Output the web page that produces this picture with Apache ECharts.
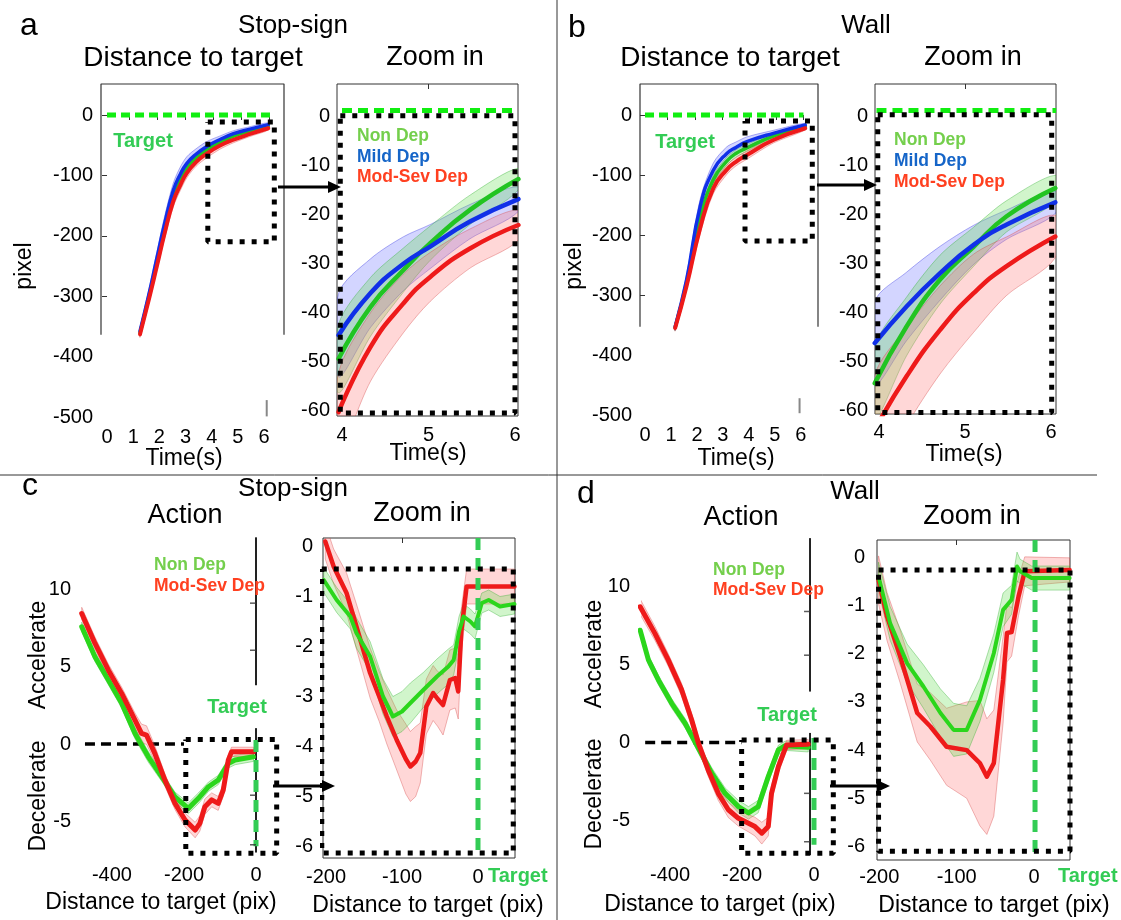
<!DOCTYPE html>
<html>
<head>
<meta charset="utf-8">
<title>Distance to target / Action</title>
<script src="https://cdn.jsdelivr.net/npm/echarts@6/dist/echarts.min.js"></script>
<style>
  html, body { margin: 0; padding: 0; background: #fff; }
  #chart { width: 1121px; height: 920px; }
</style>
</head>
<body>
<div id="chart"></div>
<script>
// ---------- values ----------
// a: Stop-sign, distance to target (pixel) vs time (s)
const aMainTime = [1.26, 1.6, 1.9, 2.2, 2.53, 2.8, 3.05, 3.4, 3.81, 4.3, 4.83, 5.5, 6.16]
const aMainNon = [-361, -301, -245, -188, -133, -106, -87, -71, -57, -46, -35, -26, -18]
const aMainMild = [-358, -297, -238, -180, -125, -98, -80, -65, -52, -41, -31, -23, -16]
const aMainMod = [-363, -305, -251, -196, -143, -116, -96, -78, -64, -51, -41, -31, -22]
const aMainNonErr = [5, 6, 7, 8, 8, 8, 7, 6, 6, 5, 4, 3, 3]
const aMainMildErr = [6, 8, 10, 12, 12, 12, 11, 9, 8, 6, 5, 4, 3]
const aMainModErr = [5, 6, 7, 8, 9, 9, 8, 7, 7, 6, 5, 4, 3]

const aZoomTime = [3.96, 4.33, 4.71, 5.02, 5.48, 6.04]
const aZoomNon = [-49.4, -38.8, -31.3, -25.8, -19, -12.7]
const aZoomMild = [-44.6, -36, -30, -26.5, -21.4, -16.8]
const aZoomMod = [-60.3, -47, -38.1, -32.7, -26.9, -22.1]
const aZoomNonErr = [7, 6, 4.5, 3.5, 3, 2.2]
const aZoomMildErr = [8.5, 7, 5.5, 4.5, 3.5, 2.5]
const aZoomModErr = [8, 7, 6, 5, 4, 3]

// b: Wall, distance to target
const bMainTime = [1.16, 1.6, 2.12, 2.63, 3.15, 3.5, 3.92, 4.94, 6.17]
const bMainNon = [-354, -280, -172, -108, -77, -64, -55, -35, -19]
const bMainMild = [-353, -275, -153, -92, -64, -54, -44.5, -30.5, -16.7]
const bMainMod = [-355, -285, -189, -122, -91, -78, -66.7, -41.7, -22]
const bMainNonErr = [5, 6, 8, 8, 7, 6, 6, 4, 3]
const bMainMildErr = [6, 9, 12, 12, 11, 9, 8, 5, 3]
const bMainModErr = [5, 7, 9, 9, 8, 7, 7, 5, 3]

const bZoomTime = [3.95, 4.32, 4.71, 5.1, 5.48, 6.05]
const bZoomNon = [-54.5, -42.9, -33.3, -26.6, -20.4, -14.6]
const bZoomMild = [-46.3, -38.8, -32, -26.2, -22.1, -17.5]
const bZoomMod = [-64, -53.1, -43.6, -36.1, -30.6, -24.5]
const bZoomNonErr = [7.5, 6, 5, 4, 3.2, 2.6]
const bZoomMildErr = [8.5, 7, 5.5, 4, 3, 2.3]
const bZoomModErr = [11, 10, 9, 8, 6, 4.3]

// c: Stop-sign, action vs distance to target (pix)
const cMainModX = [-484, -447, -410, -373, -336, -318, -304, -281, -253, -225, -197, -169, -156, -142, -123, -105, -91, -77, -68, -7]
const cMainMod = [8.43, 6.5, 4.77, 3.27, 1.55, 0.69, 0.58, -0.6, -2.32, -3.83, -4.9, -5.55, -5.12, -4.04, -3.6, -3.83, -2.97, -1.03, -0.5, -0.5]
const cMainModErr = [0.4, 0.4, 0.4, 0.4, 0.45, 0.6, 0.6, 0.5, 0.4, 0.4, 0.45, 0.5, 0.5, 0.5, 0.45, 0.45, 0.4, 0.3, 0.3, 0.3]
const cMainNonX = [-484, -447, -410, -373, -336, -299, -262, -225, -188, -160, -132, -105, -77, -58, -7]
const cMainNon = [7.57, 5.63, 4.13, 2.63, 0.69, -0.82, -2.1, -3.4, -4.15, -3.5, -2.75, -2.32, -1.25, -1.03, -0.82]
const cMainNonErr = [0.3, 0.3, 0.3, 0.3, 0.35, 0.35, 0.3, 0.3, 0.35, 0.35, 0.3, 0.3, 0.3, 0.3, 0.3]

const cZoomModX = [-201, -190, -173, -160, -142, -130, -120, -107, -95, -89, -82, -76, -68, -59, -53, -46, -37, -30, -26, -22, -15, 48]
const cZoomMod = [0.1, -0.4, -0.93, -1.6, -2.53, -3.0, -3.4, -3.87, -4.25, -4.4, -4.3, -4.13, -3.2, -2.93, -3.05, -3.17, -2.67, -2.63, -2.9, -1.7, -0.8, -0.8]
const cZoomModErr = [0.35, 0.35, 0.4, 0.45, 0.5, 0.5, 0.55, 0.6, 0.7, 0.7, 0.7, 0.6, 0.55, 0.55, 0.55, 0.6, 0.6, 0.6, 0.55, 0.45, 0.35, 0.35]
const cZoomNonX = [-203, -186, -168, -160, -142, -125, -112, -100, -89, -72, -54, -39, -32, -25, -19, -10, -4, 5, 14, 21, 29, 48]
const cZoomNon = [-0.67, -1.07, -1.4, -1.73, -2.2, -3.0, -3.4, -3.3, -3.13, -2.87, -2.6, -2.4, -2.27, -1.7, -1.4, -1.5, -1.6, -1.13, -1.07, -1.13, -1.2, -1.15]
const cZoomNonErr = [0.25, 0.25, 0.25, 0.3, 0.3, 0.35, 0.4, 0.4, 0.4, 0.35, 0.35, 0.35, 0.3, 0.3, 0.25, 0.25, 0.25, 0.2, 0.2, 0.2, 0.2, 0.2]

// d: Wall, action vs distance to target
const dMainModX = [-483, -442, -405, -368, -340, -321, -294, -266, -238, -210, -182, -164, -145, -127, -118, -99, -76, -16]
const dMainMod = [8.7, 7.0, 5.3, 3.4, 1.46, -0.04, -1.75, -3.25, -4.3, -4.85, -5.17, -5.38, -5.8, -5.38, -3.25, -1.54, -0.15, -0.1]
const dMainModErr = [0.5, 0.45, 0.4, 0.4, 0.4, 0.4, 0.4, 0.45, 0.5, 0.5, 0.55, 0.6, 0.7, 0.6, 0.5, 0.4, 0.3, 0.3]
const dMainNonX = [-483, -460, -432, -395, -358, -331, -284, -247, -210, -182, -155, -127, -99, -80, -16]
const dMainNon = [7.2, 5.3, 4.0, 2.5, 1.24, 0.06, -1.96, -3.25, -4.1, -4.5, -4.1, -2.18, -0.47, -0.2, -0.3]
const dMainNonErr = [0.3, 0.3, 0.3, 0.3, 0.3, 0.3, 0.35, 0.35, 0.4, 0.4, 0.4, 0.35, 0.3, 0.3, 0.3]

const dZoomModX = [-201, -190, -173, -151, -134, -113, -87, -70, -61, -52, -40, -35, -29, -20, -12, 46]
const dZoomMod = [-0.47, -1.23, -2.06, -3.23, -3.51, -3.93, -4.0, -4.27, -4.55, -4.27, -2.54, -1.57, -1.55, -0.81, -0.29, -0.26]
const dZoomModErr = [0.5, 0.5, 0.55, 0.6, 0.7, 0.8, 1.0, 1.3, 1.2, 1.1, 0.9, 0.6, 0.5, 0.4, 0.3, 0.25]
const dZoomNonX = [-201, -186, -164, -143, -121, -104, -87, -70, -52, -40, -29, -22, -18, -3, 46]
const dZoomNon = [-0.4, -1.37, -2.2, -2.68, -3.23, -3.58, -3.58, -2.96, -1.99, -1.09, -0.88, -0.19, -0.29, -0.43, -0.43]
const dZoomNonErr = [0.3, 0.35, 0.4, 0.45, 0.5, 0.55, 0.5, 0.45, 0.4, 0.35, 0.3, 0.3, 0.25, 0.25, 0.25]

// tick labels
const timeLabels = [0, 1, 2, 3, 4, 5, 6]
const pixelLabels = [0, -100, -200, -300, -400, -500]
const zoomTimeLabels = [4, 5, 6]
const zoomPixelLabels = [0, -10, -20, -30, -40, -50, -60]
const distLabels = [-400, -200, 0]
const actionLabels = [10, 5, 0, -5]
const zoomDistLabels = [-200, -100, 0]
const zoomActionLabels = [0, -1, -2, -3, -4, -5, -6]

// ---------- styling ----------
const FONT = '"Liberation Sans", Arial, Helvetica, sans-serif'
const GREEN = '#22c422'
const GREEN_CD = '#2bd61c'
const BLUE = '#1030e8'
const RED = '#ee1a1a'
const BAND_GREEN = ['rgba(90,220,70,0.28)', 'rgba(40,170,40,0.45)']
const BAND_BLUE = ['rgba(70,80,255,0.24)', 'rgba(40,40,220,0.45)']
const BAND_RED = ['rgba(255,110,110,0.28)', 'rgba(210,60,60,0.45)']
const TARGET_GREEN = '#33cc55'

const grid = []
const xAxis = []
const yAxis = []
const series = []
const graphic = []

const labelStyle = { color: '#000', fontSize: 20, fontFamily: FONT }

function addPanel(p) {
  const gi = grid.length
  grid.push({
    left: p.box[0], top: p.box[1], width: p.box[2], height: p.box[3],
    show: !!p.border, borderColor: '#333', borderWidth: 1, backgroundColor: 'transparent'
  })
  const xi = xAxis.length
  xAxis.push({
    gridIndex: gi, type: 'value', position: 'bottom', min: p.xRange[0], max: p.xRange[1],
    axisLine: { show: false }, axisTick: { show: false }, splitLine: { show: false },
    axisLabel: { ...labelStyle, customValues: p.xLabels, margin: p.xMargin }
  })
  if (p.topTicks) {
    xAxis.push({
      gridIndex: gi, type: 'value', position: 'top', min: p.xRange[0], max: p.xRange[1],
      axisLine: { show: false }, splitLine: { show: false }, axisLabel: { show: false },
      axisTick: { show: true, inside: true, length: 5, customValues: p.topTicks, lineStyle: { color: '#333' } }
    })
  }
  const yi = yAxis.length
  yAxis.push({
    gridIndex: gi, type: 'value', position: 'left', min: p.yRange[0], max: p.yRange[1],
    axisLine: { show: false }, axisTick: { show: false }, splitLine: { show: false },
    axisLabel: { ...labelStyle, customValues: p.yLabels, margin: p.yMargin }
  })
  if (p.rightTicks) {
    yAxis.push({
      gridIndex: gi, type: 'value', position: 'right', min: p.yRange[0], max: p.yRange[1],
      axisLine: { show: false }, splitLine: { show: false }, axisLabel: { show: false },
      axisTick: { show: true, inside: true, length: 5, customValues: p.rightTicks, lineStyle: { color: '#333' } }
    })
  }
  return { xAxisIndex: xi, yAxisIndex: yi }
}

function addLine(ax, xs, ys, color, width, smooth) {
  series.push({
    type: 'line', ...ax, data: xs.map((x, i) => [x, ys[i]]),
    symbol: 'none', smooth: smooth, silent: true, clip: true, z: 3,
    lineStyle: { color, width, join: 'round', cap: 'round' }
  })
}

function addBand(ax, xs, ys, err, colors, smooth) {
  series.push({
    type: 'custom', ...ax, clip: true, silent: true, z: 2,
    data: [[xs[0], ys[0]]],
    renderItem: (params, api) => {
      const upper = xs.map((x, i) => api.coord([x, ys[i] + err[i]]))
      const lower = xs.map((x, i) => api.coord([x, ys[i] - err[i]])).reverse()
      return {
        type: 'polygon',
        shape: { points: upper.concat(lower), smooth: smooth || 0 },
        style: { fill: colors[0], stroke: colors[1], lineWidth: 0.8 }
      }
    }
  })
}

function addPath(ax, pts, lineStyle, z) {
  series.push({
    type: 'line', ...ax, data: pts, symbol: 'none', silent: true, clip: false,
    z: z || 4, lineStyle
  })
}

function addDottedBox(ax, x0, x1, y0, y1) {
  addPath(ax, [[x0, y0], [x1, y0], [x1, y1], [x0, y1], [x0, y0]],
    { color: '#000', width: 5, type: [5, 7], cap: 'butt' }, 5)
}

function addTicksOnLine(ax, pts) {
  series.push({
    type: 'scatter', ...ax, data: pts, symbol: 'rect', symbolSize: [6, 1.5],
    symbolOffset: [-3, 0], itemStyle: { color: '#333' }, silent: true, z: 4
  })
}

function text(x, y, str, opt = {}) {
  const font = (opt.bold ? 'bold ' : '') + (opt.size || 20) + 'px ' + FONT
  graphic.push({
    type: 'text', x, y, rotation: opt.rotation || 0, z: 10, silent: true,
    style: {
      text: str, fill: opt.color || '#000', font,
      textAlign: opt.align || 'center', textVerticalAlign: 'middle'
    }
  })
}

function arrow(x1, x2, y) {
  graphic.push({ type: 'line', shape: { x1, y1: y, x2: x2 - 10, y2: y }, style: { stroke: '#000', lineWidth: 3 }, z: 10 })
  graphic.push({ type: 'polygon', shape: { points: [[x2 - 13, y - 6], [x2, y], [x2 - 13, y + 6]] }, style: { fill: '#000' }, z: 10 })
}

// ---------- a ----------
const aMain = addPanel({
  box: [101, 84, 183, 333], xRange: [-0.23, 6.76], yRange: [-500, 51.3],
  xLabels: timeLabels, yLabels: pixelLabels, xMargin: 10, yMargin: 8,
  topTicks: [0.84, 1.91, 2.98, 4.05, 5.12, 6.19], rightTicks: [0, -100, -200, -300]
})
addPath(aMain, [[-0.23, -364], [-0.23, 51.3], [6.76, 51.3], [6.76, -364]], { color: '#333', width: 1.2 }, 1)
addPath(aMain, [[6.1, -472], [6.1, -499]], { color: '#888', width: 2 }, 1)
addBand(aMain, aMainTime, aMainMild, aMainMildErr, BAND_BLUE, 0.3)
addBand(aMain, aMainTime, aMainNon, aMainNonErr, BAND_GREEN, 0.3)
addBand(aMain, aMainTime, aMainMod, aMainModErr, BAND_RED, 0.3)
addLine(aMain, aMainTime, aMainNon, GREEN, 3.5, true)
addLine(aMain, aMainTime, aMainMild, BLUE, 3.5, true)
addLine(aMain, aMainTime, aMainMod, RED, 4, true)
addPath(aMain, [[0, 0], [6.23, 0]], { color: '#11ee11', width: 5, type: [9, 5], cap: 'butt' })
addDottedBox(aMain, 3.85, 6.39, -11.6, -210)

const aZoom = addPanel({
  box: [337, 84, 181, 332], xRange: [3.942, 6.035], yRange: [-61.1, 6.7], border: true,
  xLabels: zoomTimeLabels, yLabels: zoomPixelLabels, xMargin: 9, yMargin: 7, topTicks: [5]
})
addBand(aZoom, aZoomTime, aZoomMild, aZoomMildErr, BAND_BLUE, 0.3)
addBand(aZoom, aZoomTime, aZoomNon, aZoomNonErr, BAND_GREEN, 0.3)
addBand(aZoom, aZoomTime, aZoomMod, aZoomModErr, BAND_RED, 0.3)
addLine(aZoom, aZoomTime, aZoomNon, GREEN, 4.5, true)
addLine(aZoom, aZoomTime, aZoomMild, BLUE, 4.5, true)
addLine(aZoom, aZoomTime, aZoomMod, RED, 4.5, true)
addPath(aZoom, [[4.0, 1.3], [6.03, 1.3]], { color: '#11ee11', width: 5, type: [10, 6], cap: 'butt' })
addDottedBox(aZoom, 3.98, 6.0, 0.2, -60.5)

// ---------- b ----------
const bMain = addPanel({
  box: [640, 84, 178, 331], xRange: [-0.193, 6.66], yRange: [-500, 51.7],
  xLabels: timeLabels, yLabels: pixelLabels, xMargin: 10, yMargin: 8,
  topTicks: [0.86, 1.93, 2.98, 4.02, 5.07, 6.1], rightTicks: [0, -100, -200, -300]
})
addPath(bMain, [[-0.193, -353], [-0.193, 51.7], [6.66, 51.7], [6.66, -353]], { color: '#333', width: 1.2 }, 1)
addPath(bMain, [[5.95, -472], [5.95, -497]], { color: '#888', width: 2 }, 1)
addBand(bMain, bMainTime, bMainMild, bMainMildErr, BAND_BLUE, 0.3)
addBand(bMain, bMainTime, bMainNon, bMainNonErr, BAND_GREEN, 0.3)
addBand(bMain, bMainTime, bMainMod, bMainModErr, BAND_RED, 0.3)
addLine(bMain, bMainTime, bMainNon, GREEN, 3.5, true)
addLine(bMain, bMainTime, bMainMild, BLUE, 3.5, true)
addLine(bMain, bMainTime, bMainMod, RED, 4, true)
addPath(bMain, [[0, 0], [6.1, 0]], { color: '#11ee11', width: 5, type: [9, 5], cap: 'butt' })
addDottedBox(bMain, 3.85, 6.44, -10, -210)

const bZoom = addPanel({
  box: [875, 84, 181, 330], xRange: [3.953, 6.058], yRange: [-60.8, 6.7], border: true,
  xLabels: zoomTimeLabels, yLabels: zoomPixelLabels, xMargin: 8, yMargin: 7, topTicks: [5]
})
addBand(bZoom, bZoomTime, bZoomMild, bZoomMildErr, BAND_BLUE, 0.3)
addBand(bZoom, bZoomTime, bZoomNon, bZoomNonErr, BAND_GREEN, 0.3)
addBand(bZoom, bZoomTime, bZoomMod, bZoomModErr, BAND_RED, 0.3)
addLine(bZoom, bZoomTime, bZoomNon, GREEN, 4.5, true)
addLine(bZoom, bZoomTime, bZoomMild, BLUE, 4.5, true)
addLine(bZoom, bZoomTime, bZoomMod, RED, 4.5, true)
addPath(bZoom, [[3.97, 1.3], [6.06, 1.3]], { color: '#11ee11', width: 5, type: [10, 6], cap: 'butt' })
addDottedBox(bZoom, 3.985, 6.008, 0.4, -60.5)

// ---------- c ----------
const cMain = addPanel({
  box: [81, 535, 196, 320], xRange: [-486, 58.3], yRange: [-7.16, 13.5],
  xLabels: distLabels, yLabels: actionLabels, xMargin: 10, yMargin: 10
})
addPath(cMain, [[0, 13.35], [0, 3.8]], { color: '#222', width: 2 }, 1)
addPath(cMain, [[0, 1.03], [0, -7.0]], { color: '#222', width: 2 }, 1)
addTicksOnLine(cMain, [[0, 9.1], [0, 6.06], [0, -3.3], [0, -6.5]])
addPath(cMain, [[-475, 0], [-200, 0]], { color: '#000', width: 3.5, type: [10, 6], cap: 'butt' }, 1)
addBand(cMain, cMainNonX, cMainNon, cMainNonErr, BAND_GREEN)
addBand(cMain, cMainModX, cMainMod, cMainModErr, BAND_RED)
addLine(cMain, cMainNonX, cMainNon, GREEN_CD, 5, false)
addLine(cMain, cMainModX, cMainMod, RED, 5, false)
addPath(cMain, [[0, 0.26], [0, -6.6]], { color: TARGET_GREEN, width: 5, type: [12, 8], cap: 'butt' })
addDottedBox(cMain, -195, 57.4, 0.3, -7.05)

const cZoom = addPanel({
  box: [323, 538, 192, 320], xRange: [-204, 48.7], yRange: [-6.23, 0.17], border: true,
  xLabels: zoomDistLabels, yLabels: zoomActionLabels, xMargin: 9, yMargin: 10, topTicks: [-100]
})
addBand(cZoom, cZoomModX, cZoomMod, cZoomModErr, BAND_RED)
addBand(cZoom, cZoomNonX, cZoomNon, cZoomNonErr, BAND_GREEN)
addLine(cZoom, cZoomModX, cZoomMod, RED, 4.5, false)
addLine(cZoom, cZoomNonX, cZoomNon, GREEN_CD, 4, false)
addPath(cZoom, [[0, 0.17], [0, -6.23]], { color: TARGET_GREEN, width: 5, type: [12, 8], cap: 'butt' })
addDottedBox(cZoom, -205.6, 46.4, -0.45, -6.13)

// ---------- d ----------
const dMain = addPanel({
  box: [641, 535, 193, 320], xRange: [-480.6, 55.6], yRange: [-7.2, 13.3],
  xLabels: distLabels, yLabels: actionLabels, xMargin: 10, yMargin: 11
})
addPath(dMain, [[-11, 13.1], [-11, 3.27]], { color: '#222', width: 2 }, 1)
addPath(dMain, [[-11, 0.62], [-11, -7.2]], { color: '#222', width: 2 }, 1)
addTicksOnLine(dMain, [[-11, 8.4], [-11, 5.6], [-11, -3.25], [-11, -6.35]])
addPath(dMain, [[-469, 0], [-201, 0]], { color: '#000', width: 3.5, type: [10, 6], cap: 'butt' }, 1)
addBand(dMain, dMainNonX, dMainNon, dMainNonErr, BAND_GREEN)
addBand(dMain, dMainModX, dMainMod, dMainModErr, BAND_RED)
addLine(dMain, dMainNonX, dMainNon, GREEN_CD, 5, false)
addLine(dMain, dMainModX, dMainMod, RED, 5, false)
addPath(dMain, [[0, 0.3], [0, -6.55]], { color: TARGET_GREEN, width: 5, type: [12, 8], cap: 'butt' })
addDottedBox(dMain, -201, 53.7, 0.17, -7.09)

const dZoom = addPanel({
  box: [877, 540, 193, 320], xRange: [-203, 46.5], yRange: [-6.28, 0.36], border: true,
  xLabels: zoomDistLabels, yLabels: zoomActionLabels, xMargin: 7, yMargin: 12, topTicks: [-100]
})
addBand(dZoom, dZoomModX, dZoomMod, dZoomModErr, BAND_RED)
addBand(dZoom, dZoomNonX, dZoomNon, dZoomNonErr, BAND_GREEN)
addLine(dZoom, dZoomModX, dZoomMod, RED, 4.5, false)
addLine(dZoom, dZoomNonX, dZoomNon, GREEN_CD, 4, false)
addPath(dZoom, [[1.3, 0.36], [1.3, -6.28]], { color: TARGET_GREEN, width: 5, type: [12, 8], cap: 'butt' })
addDottedBox(dZoom, -201, 46.5, -0.26, -6.1)

// ---------- annotations ----------
graphic.push({ type: 'line', shape: { x1: 557, y1: 0, x2: 557, y2: 920 }, style: { stroke: '#333', lineWidth: 1 } })
graphic.push({ type: 'line', shape: { x1: 0, y1: 475, x2: 1097, y2: 475 }, style: { stroke: '#333', lineWidth: 1 } })

text(29, 26, 'a', { size: 32 })
text(577, 28, 'b', { size: 32 })
text(30, 486, 'c', { size: 32 })
text(586, 494, 'd', { size: 32 })

text(293, 26, 'Stop-sign', { size: 26 })
text(866, 26, 'Wall', { size: 26 })
text(193, 58, 'Distance to target', { size: 28 })
text(435, 58, 'Zoom in', { size: 27 })
text(730, 58, 'Distance to target', { size: 28 })
text(973, 58, 'Zoom in', { size: 27 })
text(293, 489, 'Stop-sign', { size: 26 })
text(855, 492, 'Wall', { size: 26 })
text(185, 516, 'Action', { size: 27 })
text(422, 514, 'Zoom in', { size: 27 })
text(741, 518, 'Action', { size: 27 })
text(972, 517, 'Zoom in', { size: 27 })

text(25, 266, 'pixel', { size: 23, rotation: Math.PI / 2 })
text(575, 266, 'pixel', { size: 23, rotation: Math.PI / 2 })
text(184, 459, 'Time(s)', { size: 23 })
text(428, 454, 'Time(s)', { size: 23 })
text(736, 459, 'Time(s)', { size: 23 })
text(964, 455, 'Time(s)', { size: 23 })
text(161, 903, 'Distance to target (pix)', { size: 23 })
text(428, 906, 'Distance to target (pix)', { size: 23 })
text(720, 905, 'Distance to target (pix)', { size: 23 })
text(994, 906, 'Distance to target (pix)', { size: 23 })
text(39, 655, 'Accelerate', { size: 23, rotation: Math.PI / 2 })
text(39, 796, 'Decelerate', { size: 23, rotation: Math.PI / 2 })
text(595, 654, 'Accelerate', { size: 23, rotation: Math.PI / 2 })
text(595, 794, 'Decelerate', { size: 23, rotation: Math.PI / 2 })

const legendColors = { non: '#74cf4c', mild: '#1565c8', mod: '#ff4020' }
text(357, 136, 'Non Dep', { size: 17.5, bold: true, align: 'left', color: legendColors.non })
text(357, 157, 'Mild Dep', { size: 17.5, bold: true, align: 'left', color: legendColors.mild })
text(357, 177, 'Mod-Sev Dep', { size: 17.5, bold: true, align: 'left', color: legendColors.mod })
text(894, 140, 'Non Dep', { size: 17.5, bold: true, align: 'left', color: legendColors.non })
text(894, 161, 'Mild Dep', { size: 17.5, bold: true, align: 'left', color: legendColors.mild })
text(894, 182, 'Mod-Sev Dep', { size: 17.5, bold: true, align: 'left', color: legendColors.mod })
text(154, 565, 'Non Dep', { size: 17.5, bold: true, align: 'left', color: legendColors.non })
text(154, 586, 'Mod-Sev Dep', { size: 17.5, bold: true, align: 'left', color: legendColors.mod })
text(713, 570, 'Non Dep', { size: 17.5, bold: true, align: 'left', color: legendColors.non })
text(713, 590, 'Mod-Sev Dep', { size: 17.5, bold: true, align: 'left', color: legendColors.mod })

text(143, 141, 'Target', { size: 20, bold: true, color: TARGET_GREEN })
text(685, 142, 'Target', { size: 20, bold: true, color: TARGET_GREEN })
text(237, 707, 'Target', { size: 20, bold: true, color: TARGET_GREEN })
text(787, 715, 'Target', { size: 20, bold: true, color: TARGET_GREEN })
text(488, 876, 'Target', { size: 20, bold: true, align: 'left', color: TARGET_GREEN })
text(1058, 876, 'Target', { size: 20, bold: true, align: 'left', color: TARGET_GREEN })

arrow(278, 341, 187)
arrow(817, 877, 185)
arrow(273, 335, 786)
arrow(830, 890, 786)

const chart = echarts.init(document.getElementById('chart'))
chart.setOption({
  animation: false,
  backgroundColor: '#fff',
  grid, xAxis, yAxis, series, graphic
})
</script>
</body>
</html>
